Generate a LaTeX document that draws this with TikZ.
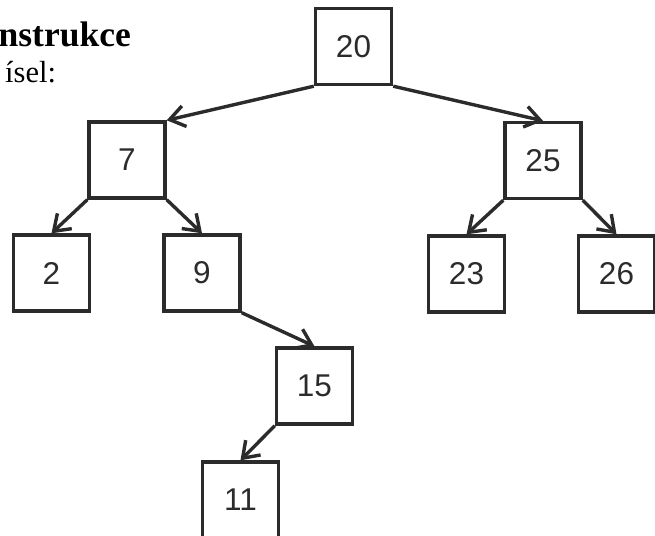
\documentclass[tikz,border=0pt]{standalone}
\usepackage{fontspec}
\setmainfont{Liberation Serif}
\newfontfamily\arialfont{Liberation Sans}
\usetikzlibrary{arrows.meta}
\definecolor{ink}{RGB}{43,43,43}
\tikzset{
  treebox/.style={draw=ink, line width=3.4pt, minimum width=76pt, minimum height=76pt, inner sep=0pt,
    font=\arialfont\fontsize{31.5}{36}\selectfont, text=ink},
  link/.style={draw=ink, line width=3.4pt, -{Straight Barb[length=15pt,width=21pt]}},
  heading/.style={anchor=base west, inner sep=0pt, text=black}
}
\begin{document}
\begin{tikzpicture}[x=1pt,y=-1pt]
\useasboundingbox (0,0) rectangle (655,535);
\clip (0,0) rectangle (655,535);
\node[heading, font=\bfseries\fontsize{35.5}{40}\selectfont] (title) at (-1.5,47) {nstrukce};
\node[heading, font=\fontsize{30.5}{36}\selectfont] (sub) at (5,82) {ísel:};
\node[treebox] (n20) at (353.5,46.5) {20};
\node[treebox] (n7) at (127,160) {7};
\node[treebox] (n25) at (543,160.5) {25};
\node[treebox] (n2) at (51.5,273) {2};
\node[treebox] (n9) at (202,273) {9};
\node[treebox] (n23) at (466.5,274) {23};
\node[treebox] (n26) at (616.5,274) {26};
\node[treebox] (n15) at (314.5,386) {15};
\node[treebox] (n11) at (240.5,500) {11};
\draw[link] (n20.south west) -- (n7.north east);
\draw[link] (n20.south east) -- (n25.north);
\draw[link] (n7.south west) -- (n2.north);
\draw[link] (n7.south east) -- (n9.north);
\draw[link] (n25.south west) -- (n23.north);
\draw[link] (n25.south east) -- (n26.north);
\draw[link] (n9.south east) -- (n15.north);
\draw[link] (n15.south west) -- (n11.north);
\end{tikzpicture}
\end{document}
